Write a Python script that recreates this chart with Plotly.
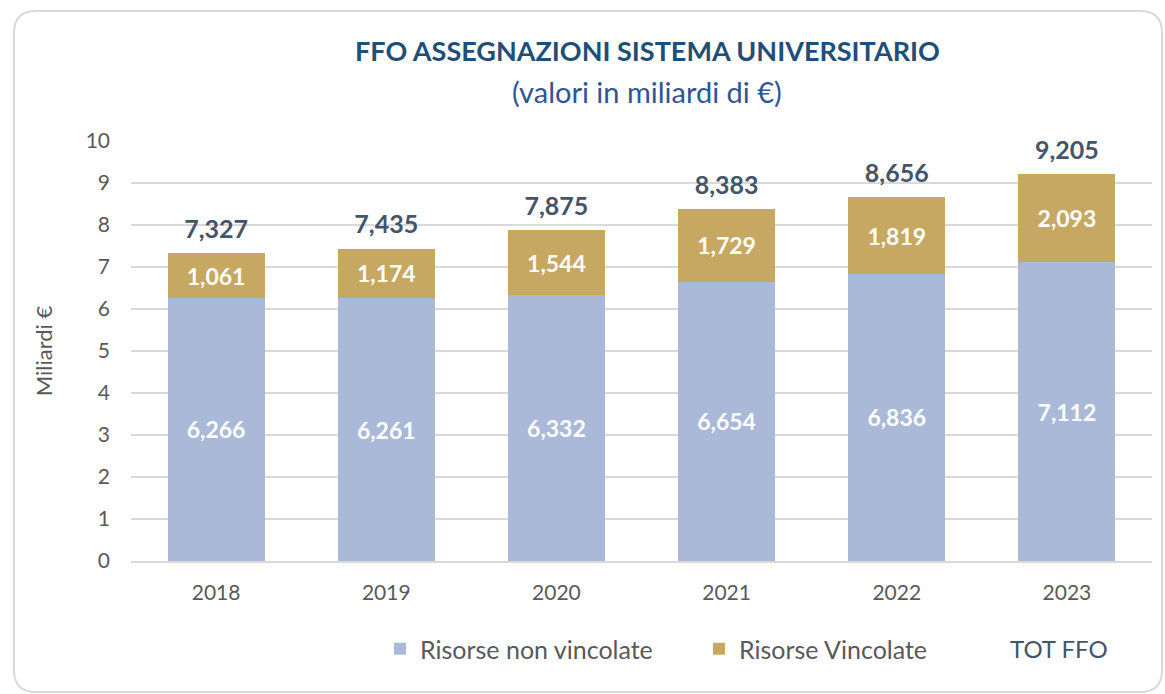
import plotly.graph_objects as go

years = ["2018", "2019", "2020", "2021", "2022", "2023"]
non_vincolate = [6.266, 6.261, 6.332, 6.654, 6.836, 7.112]
vincolate = [1.061, 1.174, 1.544, 1.729, 1.819, 2.093]
tot_ffo = [7.327, 7.435, 7.875, 8.383, 8.656, 9.205]
y_ticks = [0, 1, 2, 3, 4, 5, 6, 7, 8, 9, 10]

BLUE = "#AAB9D7"
GOLD = "#C6A862"
DARK = "#44546A"
GREY = "#595959"
FONT = "Lato"

W, H = 1165, 694
L, R, T, B = 131, 1152, 141, 561
pw, ph = R - L, B - T


def px_x(p):
    return (p - L) / pw


def px_y(p):
    return (B - p) / ph


fig = go.Figure()
fig.add_trace(go.Bar(
    x=years, y=non_vincolate, name="Risorse non vincolate",
    marker=dict(color=BLUE, line=dict(width=0)),
    texttemplate="%{y:.3f}", textposition="inside", insidetextanchor="middle",
    textfont=dict(color="white", size=23, family=FONT, weight="bold"),
    hoverinfo="skip",
))
fig.add_trace(go.Bar(
    x=years, y=vincolate, name="Risorse Vincolate",
    marker=dict(color=GOLD, line=dict(width=0)),
    texttemplate="%{y:.3f}", textposition="inside", insidetextanchor="middle",
    textfont=dict(color="white", size=23, family=FONT, weight="bold"),
    hoverinfo="skip",
))
fig.add_trace(go.Scatter(
    x=years, y=tot_ffo, name="<span style='color:#44546A'>TOT FFO</span>",
    legend="legend2",
    mode="markers+text",
    marker=dict(size=13, color="rgba(0,0,0,0)", line=dict(width=0)),
    texttemplate="%{y:.3f}", textposition="top center",
    textfont=dict(color=DARK, size=25, family=FONT, weight="bold"),
    hoverinfo="skip", cliponaxis=False,
))

x0, x1 = px_x(14), px_x(1162)
y0, y1 = px_y(692), px_y(11)
rx, ry = 22 / pw, 22 / ph
path = (f"M {x0+rx},{y1} L {x1-rx},{y1} Q {x1},{y1} {x1},{y1-ry} "
        f"L {x1},{y0+ry} Q {x1},{y0} {x1-rx},{y0} L {x0+rx},{y0} "
        f"Q {x0},{y0} {x0},{y0+ry} L {x0},{y1-ry} Q {x0},{y1} {x0+rx},{y1} Z")

fig.update_layout(
    width=W, height=H,
    margin=dict(l=L, r=W - R, t=T, b=H - B),
    barmode="stack", bargap=0.43,
    separators=",.",
    paper_bgcolor="white", plot_bgcolor="white",
    font=dict(family=FONT, color=GREY, size=21),
    xaxis=dict(showgrid=False, showline=True, linecolor="#D9D9D9", linewidth=1.5,
               ticks="", tickfont=dict(size=21, color=GREY), ticklabelstandoff=12),
    yaxis=dict(range=[0, 10], tickvals=y_ticks, showgrid=True, gridcolor="#D9D9D9",
               gridwidth=1.5, zeroline=False, showline=False, ticks="",
               tickfont=dict(size=21, color=GREY), ticklabelstandoff=20,
               title=dict(text="Miliardi €", font=dict(size=22, color=GREY), standoff=26)),
    legend=dict(orientation="h", x=px_x(380), xanchor="left", y=px_y(649), yanchor="middle",
                font=dict(size=25, color=GREY), itemwidth=30, traceorder="normal",
                entrywidth=274, entrywidthmode="pixels", bgcolor="rgba(0,0,0,0)"),
    legend2=dict(orientation="h", x=px_x(970), xanchor="left", y=px_y(649), yanchor="middle",
                 font=dict(size=24, color=DARK), itemwidth=30, bgcolor="rgba(0,0,0,0)"),
    showlegend=True,
    annotations=[
        dict(text="<b>FFO ASSEGNAZIONI SISTEMA UNIVERSITARIO</b>", xref="paper", yref="paper",
             x=px_x(647), y=px_y(50), xanchor="center", yanchor="middle", showarrow=False,
             font=dict(family=FONT, size=27, color="#1F4E79")),
        dict(text="(valori in miliardi di €)", xref="paper", yref="paper",
             x=px_x(647), y=px_y(91), xanchor="center", yanchor="middle", showarrow=False,
             font=dict(family=FONT, size=29, color="#2F5597")),
    ],
    shapes=[dict(type="path", xref="paper", yref="paper", path=path,
                 line=dict(color="#D9D9D9", width=2), fillcolor="rgba(0,0,0,0)",
                 layer="below")],
)

fig.write_html(
    "out.html",
    config={"displayModeBar": False},
    post_script="document.body.style.margin='0';document.body.style.overflow='hidden';",
)
